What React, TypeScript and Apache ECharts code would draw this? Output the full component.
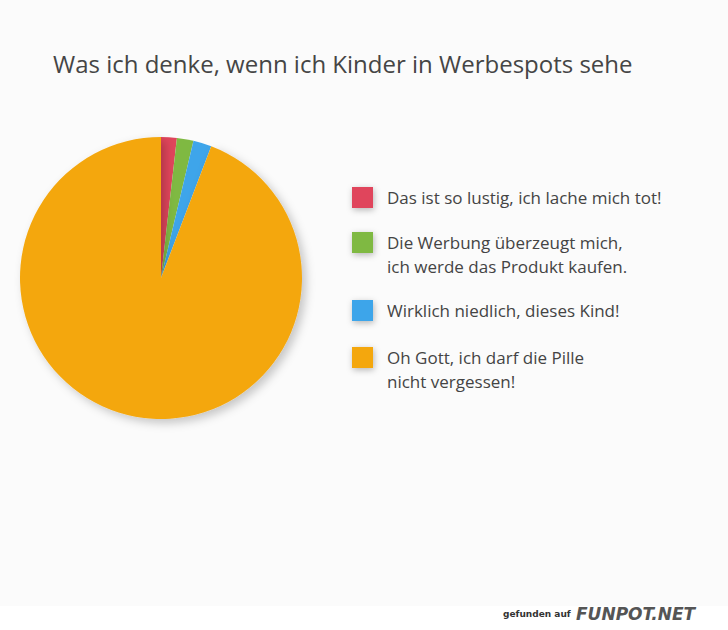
import React, { useEffect, useRef } from "react";
import * as echarts from "echarts";

const titleText = "Was ich denke, wenn ich Kinder in Werbespots sehe";
const categories = [
  "Das ist so lustig, ich lache mich tot!",
  "Die Werbung überzeugt mich,\nich werde das Produkt kaufen.",
  "Wirklich niedlich, dieses Kind!",
  "Oh Gott, ich darf die Pille\nnicht vergessen!",
];
const values = [1.8, 1.9, 2.1, 94.2];
const colors = ["#e0455b", "#7fb942", "#3ea5ea", "#f4a70e"];
const legendIconTops = [187, 232, 300, 347];

const FONT = "'Open Sans', 'Noto Sans', sans-serif";
const LH = 24;

export default function App() {
  const ref = useRef<HTMLDivElement>(null);
  useEffect(() => {
    if (!ref.current) return;
    const chart = echarts.init(ref.current, null, { renderer: "svg" });
    const legends = categories.map((name, i) => {
      const twoLines = name.includes("\n");
      return {
        orient: "vertical",
        left: 352,
        top: twoLines ? legendIconTops[i] + 10.5 - LH * 1.5 : legendIconTops[i] + 10.5 - LH / 2,
        padding: 0,
        data: [name],
        itemWidth: 21,
        itemHeight: 21,
        itemGap: 0,
        icon: "rect",
        selectedMode: false,
        formatter: (n: string) => (n.includes("\n") ? "\n" + n : n),
        itemStyle: {
          shadowBlur: 6,
          shadowColor: "rgba(0,0,0,0.28)",
          shadowOffsetX: 1,
          shadowOffsetY: 2,
        },
        textStyle: {
          fontFamily: FONT,
          fontSize: 17,
          color: "#444444",
          lineHeight: LH,
          padding: [0, 0, 0, 9],
        },
      };
    });
    chart.setOption({
      animation: false,
      backgroundColor: "#fbfbfb",
      title: {
        text: titleText,
        left: 48,
        top: 46,
        textStyle: {
          fontFamily: FONT,
          fontSize: 24,
          fontWeight: "normal",
          color: "#454545",
        },
      },
      legend: legends,
      series: [
        {
          type: "pie",
          center: [161, 278],
          radius: 141,
          startAngle: 90,
          clockwise: true,
          label: { show: false },
          labelLine: { show: false },
          emphasis: { disabled: true },
          data: categories.map((name, i) => ({
            name,
            value: values[i],
            itemStyle: {
              color: colors[i],
              borderWidth: 0,
              ...(i === 3
                ? { shadowBlur: 10, shadowColor: "rgba(0,0,0,0.22)", shadowOffsetX: 4, shadowOffsetY: 4 }
                : {}),
            },
          })),
        },
      ],
      graphic: [
        {
          type: "rect",
          shape: { x: 0, y: 606, width: 728, height: 24 },
          style: { fill: "#ffffff" },
        },
        {
          type: "text",
          x: 503,
          y: 609,
          style: {
            text: "gefunden auf",
            font: "bold 9px 'DejaVu Sans', sans-serif",
            fill: "#333333",
          },
        },
        {
          type: "text",
          x: 576,
          y: 605,
          style: {
            text: "FUNPOT.NET",
            font: "italic 900 17px 'DejaVu Sans', sans-serif",
            fill: "#555555",
          },
        },
      ],
    });
    return () => chart.dispose();
  }, []);
  return (
    <div
      ref={ref}
      style={{ position: "fixed", left: 0, top: 0, width: 728, height: 630 }}
    />
  );
}
